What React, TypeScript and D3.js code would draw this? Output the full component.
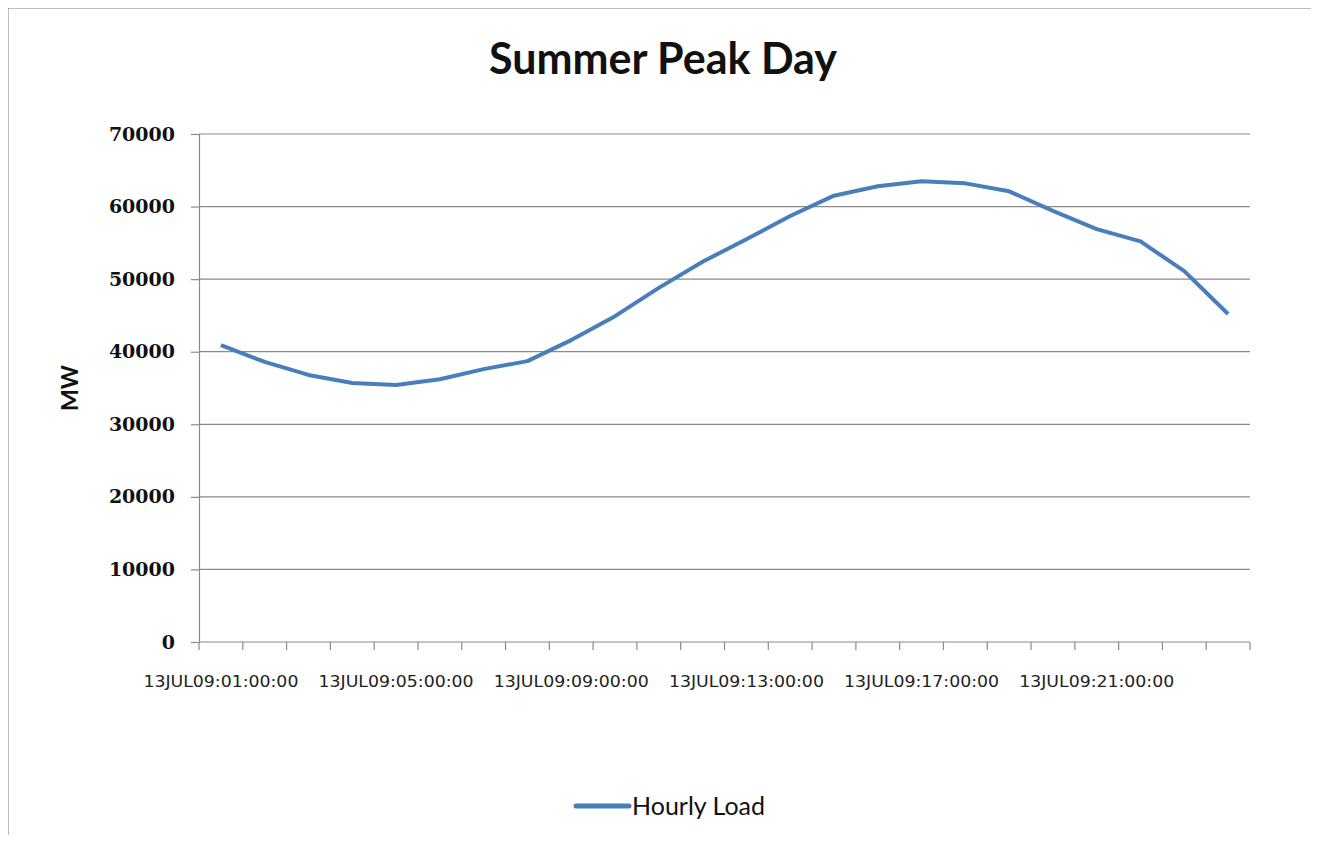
import { useEffect, useRef } from 'react';
import * as d3 from 'd3';

// hourly load on 13 Jul 2009, hour ending 01..24
const hours = d3.range(1, 25).map((h) => `13JUL09:${String(h).padStart(2, '0')}:00:00`);
const hourlyLoad = [
  40900, 38600, 36800, 35700, 35400, 36200, 37600, 38700, 41600, 44900, 48800, 52400,
  55500, 58700, 61500, 62800, 63500, 63200, 62100, 59400, 56900, 55200, 51100, 45200,
];
const yTicks = [0, 10000, 20000, 30000, 40000, 50000, 60000, 70000];

const W = 1319;
const H = 843;

export default function App() {
  const svgRef = useRef<SVGSVGElement>(null);

  useEffect(() => {
    if (!svgRef.current) return;
    const svg = d3.select(svgRef.current);
    svg.selectAll('*').remove();

    const left = 199;
    const right = 1250;
    const top = 134;
    const bottom = 642;

    // outer chart border: strong on top/left, faint on right/bottom
    svg.append('rect').attr('width', W).attr('height', H).attr('fill', '#fff');
    const border = svg.append('g').attr('fill', 'none');
    border
      .append('path')
      .attr('d', 'M1313,7.5H7.5V841')
      .attr('stroke', '#7f7f7f')
      .attr('stroke-width', 2);
    border
      .append('path')
      .attr('d', 'M1313,7.5V840.5H7.5')
      .attr('stroke', '#dcdcdc')
      .attr('stroke-width', 1.5);

    const x = d3.scaleBand().domain(hours).range([left, right]).padding(0);
    const y = d3.scaleLinear().domain([0, 70000]).range([bottom, top]);

    // gridlines
    svg
      .append('g')
      .selectAll('line')
      .data(yTicks.filter((t) => t > 0))
      .enter()
      .append('line')
      .attr('x1', left)
      .attr('x2', right)
      .attr('y1', (d) => y(d))
      .attr('y2', (d) => y(d))
      .attr('stroke', '#8a8a8a')
      .attr('stroke-width', 1.2);

    // y axis
    const yAxis = svg
      .append('g')
      .attr('transform', `translate(${left},0)`)
      .call(d3.axisLeft(y).tickValues(yTicks).tickSize(8).tickPadding(16).tickFormat(d3.format('d')));
    yAxis.select('.domain').attr('stroke', '#8a8a8a').attr('stroke-width', 1.2);
    yAxis.selectAll('.tick line').attr('stroke', '#8a8a8a').attr('stroke-width', 1.2);
    yAxis
      .selectAll('text')
      .attr('fill', '#111')
      .attr('font-family', "'DejaVu Serif', serif")
      .attr('font-weight', 'bold')
      .attr('font-size', '19px');

    // x axis: ticks on category boundaries, labels every 4th hour
    const xg = svg.append('g');
    xg.append('line')
      .attr('x1', left)
      .attr('x2', right)
      .attr('y1', bottom)
      .attr('y2', bottom)
      .attr('stroke', '#8a8a8a')
      .attr('stroke-width', 1.2);
    const bounds = hours.map((h) => x(h) as number).concat([right]);
    xg.selectAll('.xt')
      .data(bounds)
      .enter()
      .append('line')
      .attr('x1', (d) => d)
      .attr('x2', (d) => d)
      .attr('y1', bottom)
      .attr('y2', bottom + 8)
      .attr('stroke', '#8a8a8a')
      .attr('stroke-width', 1.2);
    xg.selectAll('.xl')
      .data(hours.filter((_, i) => i % 4 === 0))
      .enter()
      .append('text')
      .attr('x', (d) => (x(d) as number) + x.bandwidth() / 2)
      .attr('y', bottom + 45)
      .attr('text-anchor', 'middle')
      .attr('font-family', "'DejaVu Sans', sans-serif")
      .attr('font-size', '16px')
      .attr('textLength', 155)
      .attr('lengthAdjust', 'spacingAndGlyphs')
      .attr('fill', '#222')
      .text((d) => d);

    // line
    const line = d3
      .line<number>()
      .x((_, i) => (x(hours[i]) as number) + x.bandwidth() / 2)
      .y((d) => y(d));
    svg
      .append('path')
      .datum(hourlyLoad)
      .attr('d', line)
      .attr('fill', 'none')
      .attr('stroke', '#4a7ebb')
      .attr('stroke-width', 4)
      .attr('stroke-linejoin', 'round');

    // title
    svg
      .append('text')
      .attr('x', 663)
      .attr('y', 74)
      .attr('text-anchor', 'middle')
      .attr('font-family', "Lato, 'Open Sans', sans-serif")
      .attr('font-weight', 'bold')
      .attr('font-size', '43px')
      .attr('fill', '#111')
      .text('Summer Peak Day');

    // y label
    svg
      .append('text')
      .attr('transform', `translate(78,${(top + bottom) / 2}) rotate(-90)`)
      .attr('text-anchor', 'middle')
      .attr('font-family', "Lato, 'Open Sans', sans-serif")
      .attr('font-weight', 'bold')
      .attr('font-size', '23px')
      .attr('fill', '#111')
      .text('MW');

    // legend
    const lg = svg.append('g').attr('transform', 'translate(576,806)');
    lg.append('line')
      .attr('x1', 0)
      .attr('x2', 53)
      .attr('y1', 0)
      .attr('y2', 0)
      .attr('stroke', '#4a7ebb')
      .attr('stroke-width', 5)
      .attr('stroke-linecap', 'round');
    lg.append('text')
      .attr('x', 56)
      .attr('y', 9)
      .attr('font-family', "Lato, 'Open Sans', sans-serif")
      .attr('font-size', '25px')
      .attr('fill', '#111')
      .text('Hourly Load');
  }, []);

  return <svg ref={svgRef} width={W} height={H} style={{ display: 'block', margin: '-8px' }} />;
}
